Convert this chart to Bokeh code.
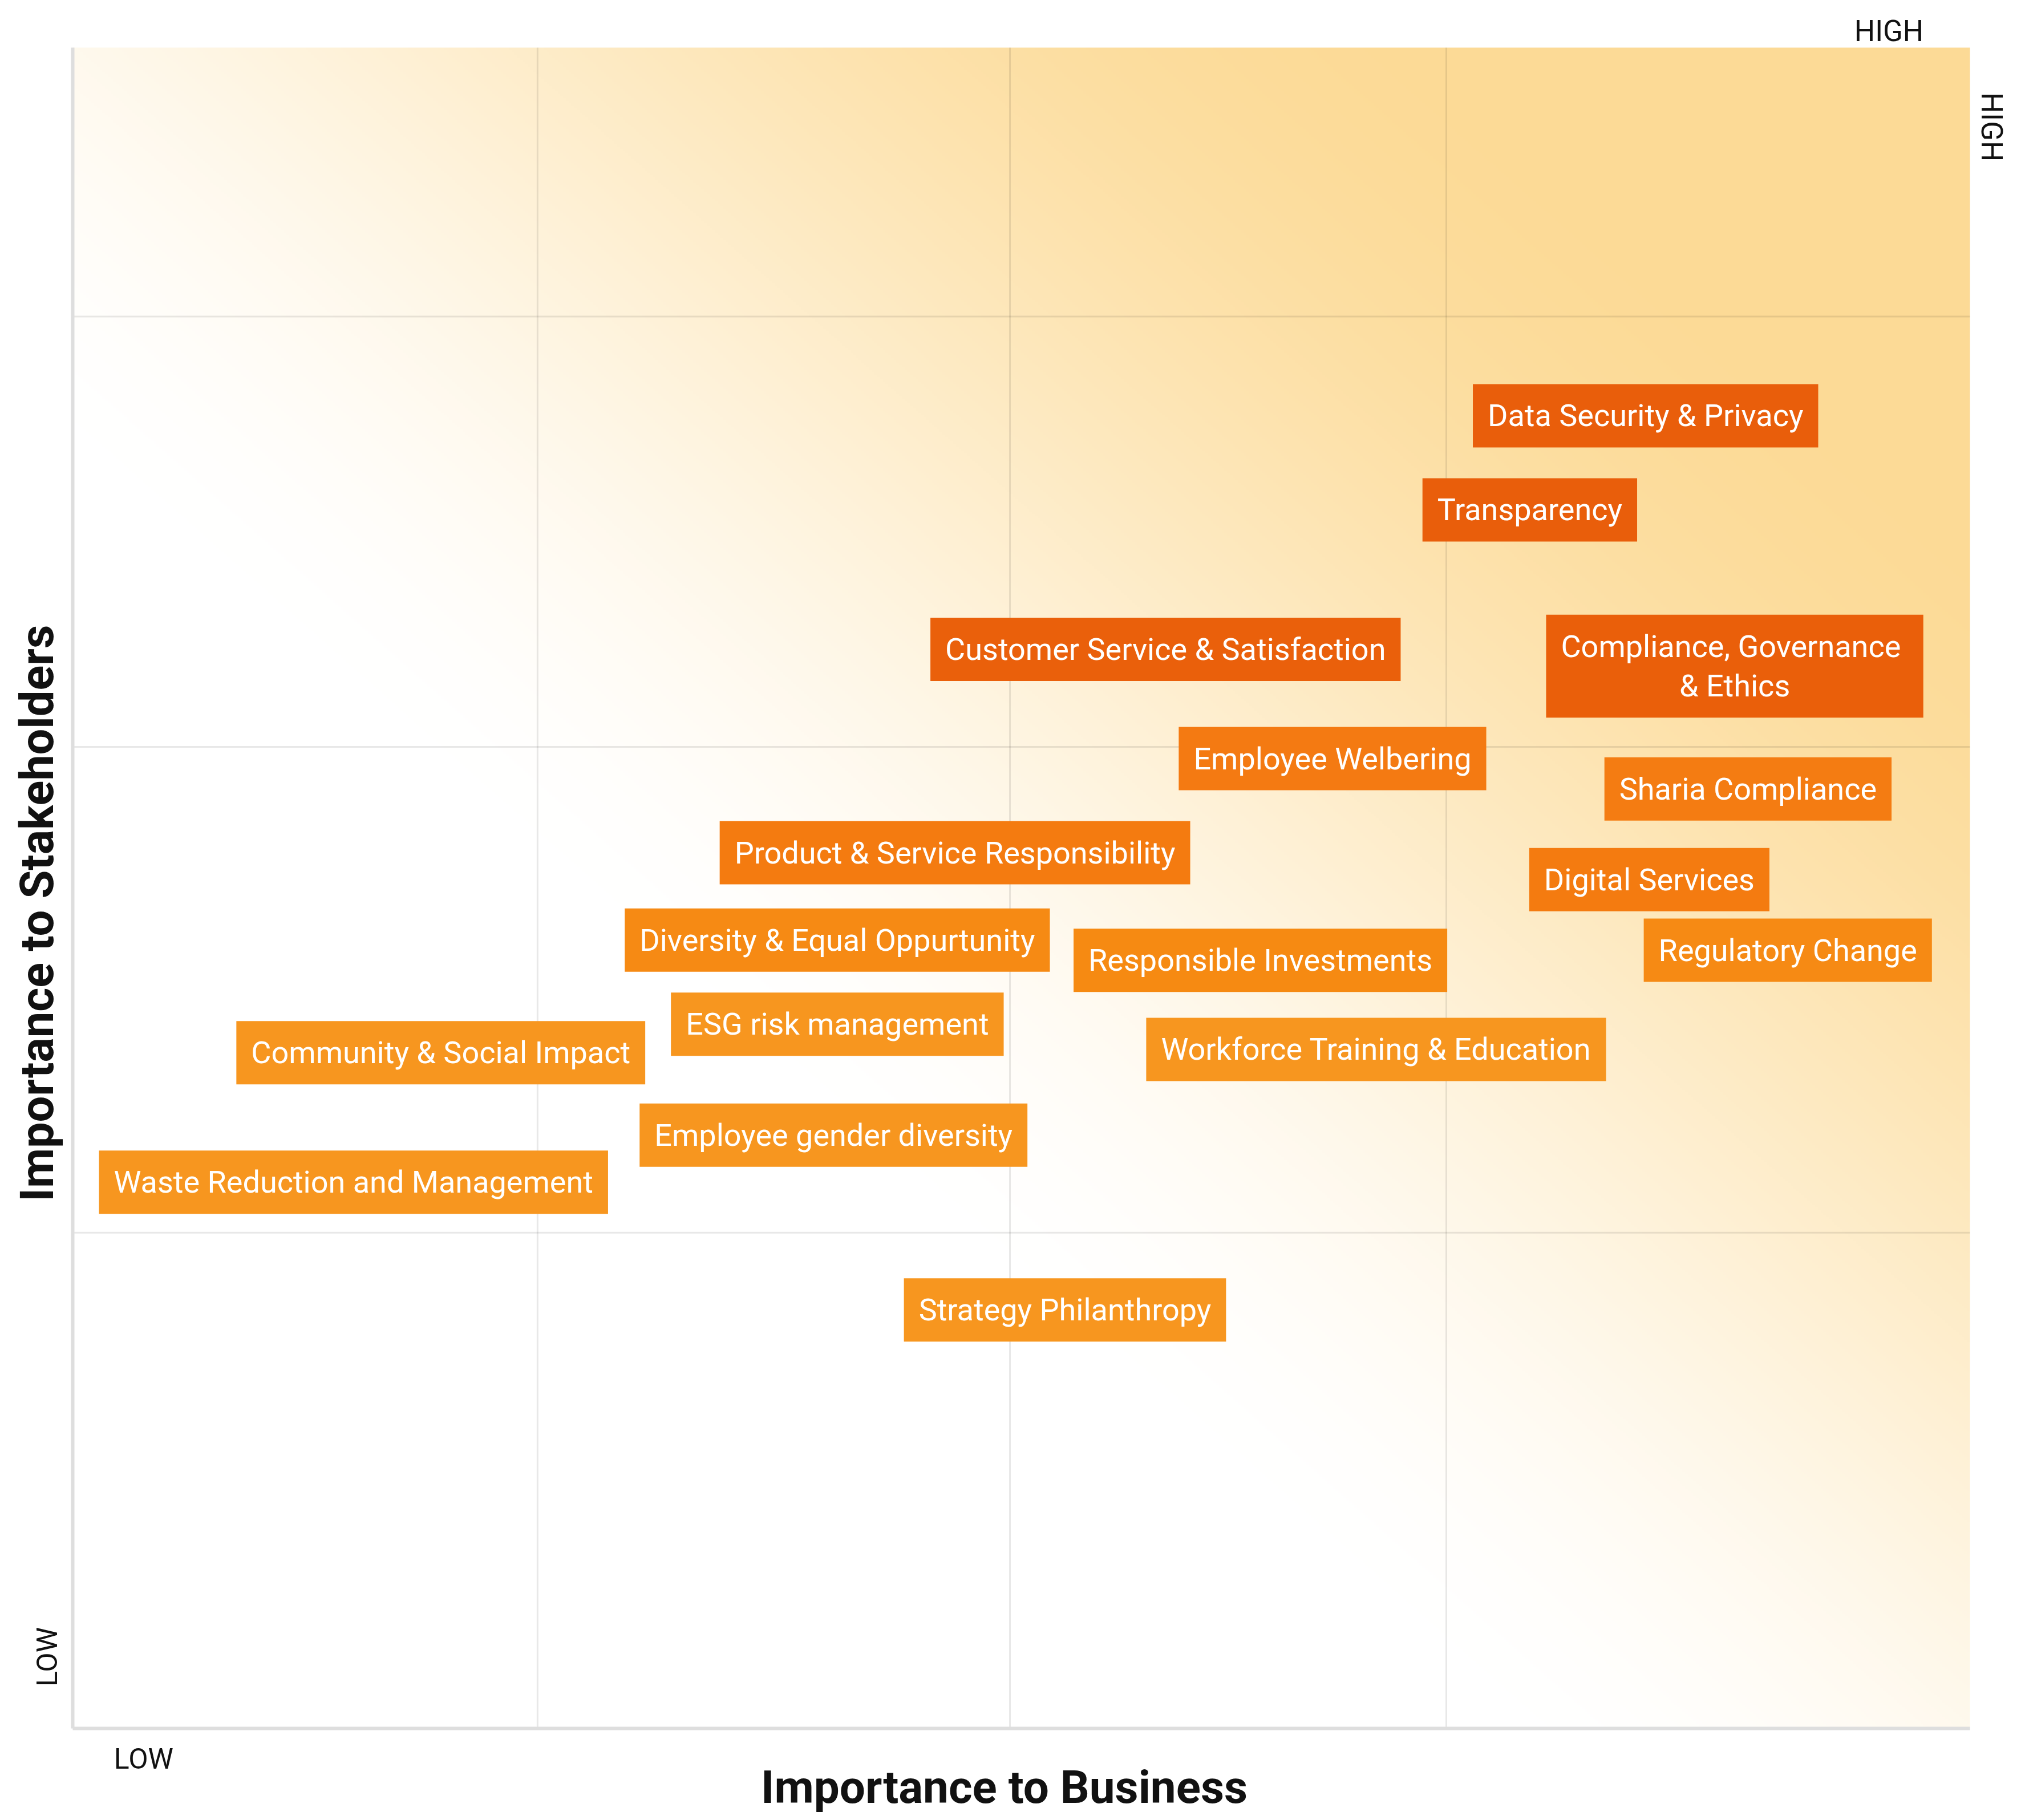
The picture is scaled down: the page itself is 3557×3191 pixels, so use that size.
import numpy as np
from bokeh.plotting import figure
from bokeh.models import Range1d, Label, ColumnDataSource
from bokeh.embed import file_html
from bokeh.resources import INLINE
from bokeh.core.properties import value

# ---------------- data ----------------
topics = [
    "Data Security & Privacy",
    "Transparency",
    "Customer Service & Satisfaction",
    "Compliance,  Governance\n& Ethics",
    "Employee Welbering",
    "Sharia Compliance",
    "Product & Service Responsibility",
    "Digital Services",
    "Diversity & Equal Oppurtunity",
    "Responsible Investments",
    "Regulatory Change",
    "ESG risk management",
    "Community & Social Impact",
    "Workforce Training & Education",
    "Employee gender diversity",
    "Waste Reduction and Management",
    "Strategy Philanthropy",
]
# importance to business (x) and to stakeholders (y), 0-100 scale
business = [82.9, 76.8, 57.6, 87.6, 66.4, 88.3, 46.5, 83.1, 40.3, 62.6, 90.4,
            40.3, 19.4, 68.7, 40.1, 14.8, 52.3]
stakeholders = [78.1, 72.5, 64.2, 63.2, 57.7, 55.9, 52.1, 50.5, 46.9, 45.7, 46.3,
                41.9, 40.2, 40.4, 35.3, 32.5, 24.9]
box_colors = ["#E95E0B", "#E95E0B", "#EA600B", "#EA5F0A", "#F47A12", "#F47C12",
              "#F47B10", "#F47B10", "#F68A14", "#F68A12", "#F68A14",
              "#F7961F", "#F7961F", "#F7961F", "#F7961F", "#F7961F", "#F7961F"]

axis_min, axis_max = 0, 100
x_grid = [24.5, 49.4, 72.4]
y_grid = [29.5, 58.4, 84.0]

x_title = "Importance to Business"
y_title = "Importance to Stakeholders"
low_label = "LOW"
high_label = "HIGH"

FONT = "Roboto"

# ---------------- figure ----------------
# The frame covers the whole canvas; the 0-100 chart area sits inside it so
# that the axis words around it are not clipped.
W, H = 3556, 3190
kx, ky = 33.26, 29.47            # pixels per unit
left_px, top_px = 127, 83        # chart area offsets
x0 = -left_px / kx
x1 = x0 + W / kx
y1 = 100 + top_px / ky
y0 = y1 - H / ky

p = figure(width=W, height=H, x_range=Range1d(x0, x1), y_range=Range1d(y0, y1),
           output_backend="svg", toolbar_location=None, min_border=0)
p.outline_line_color = None
p.background_fill_color = "white"
p.border_fill_color = "white"
p.xaxis.visible = False
p.yaxis.visible = False
p.xgrid.visible = False
p.ygrid.visible = False

# background gradient (white lower-left -> soft orange upper-right)
n = 700
gx, gy = np.meshgrid(np.linspace(0, 1, n), np.linspace(0, 1, n))
t = (gx + gy) / 2.0
s = np.clip((t - 0.37) / 0.49, 0, 1)
s = s * s * (3 - 2 * s)
target = np.array([252, 218, 150])
img = np.empty((n, n), dtype=np.uint32)
view = img.view(dtype=np.uint8).reshape((n, n, 4))
for k in range(3):
    view[:, :, k] = np.round(255 + s * (target[k] - 255)).astype(np.uint8)
view[:, :, 3] = 255
p.image_rgba(image=[img], x=axis_min, y=axis_min, dw=axis_max - axis_min,
             dh=axis_max - axis_min, level="image")

# grid lines
p.segment(x0=x_grid, y0=[axis_min] * 3, x1=x_grid, y1=[axis_max] * 3,
          line_color="#000000", line_alpha=0.09, line_width=3)
p.segment(x0=[axis_min] * 3, y0=y_grid, x1=[axis_max] * 3, y1=y_grid,
          line_color="#000000", line_alpha=0.09, line_width=3)

# axis lines (left and bottom only)
p.segment(x0=[axis_min, axis_min], y0=[axis_min, axis_min],
          x1=[axis_min, axis_max], y1=[axis_max, axis_min],
          line_color="#DEDEDE", line_width=6)

# topic boxes
src = ColumnDataSource(dict(x=business, y=stakeholders, text=topics, fill=box_colors))
p.text(x="x", y="y", text="text", source=src,
       text_align="center", text_baseline="middle",
       text_color="white", text_font=value(FONT), text_font_size="54px",
       text_line_height=1.1,
       background_fill_color="fill",
       padding=dict(left=26, right=26, top=24, bottom=24))

# titles and HIGH / LOW marks
def lab(x, y, text, size, angle=0.0, bold=False):
    p.add_layout(Label(x=x, y=y, text=text, angle=angle,
                       text_align="center", text_baseline="alphabetic",
                       text_font=FONT, text_font_size=size,
                       text_font_style="bold" if bold else "normal",
                       text_color="#111111"))

lab(49.1, -3.5, x_title, "80px", bold=True)
lab(-1.85, 48.5, y_title, "81px", angle=np.pi / 2, bold=True)
lab(3.74, -1.83, low_label, "50px")
lab(-1.35, 4.26, low_label, "50px", angle=np.pi / 2)
lab(95.73, 100.98, high_label, "51px")
lab(101.14, 95.28, high_label, "51px", angle=-np.pi / 2)

open("out.html", "w").write(file_html(p, INLINE))
